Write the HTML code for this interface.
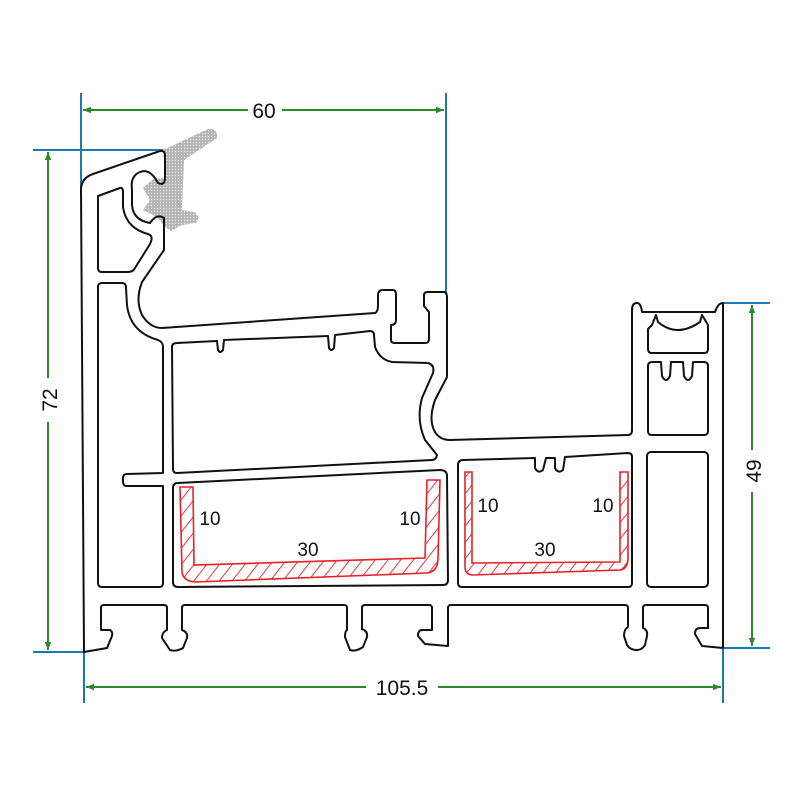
<!DOCTYPE html>
<html><head><meta charset="utf-8"><style>
html,body{margin:0;padding:0;background:#fff;width:800px;height:800px;overflow:hidden}
svg{display:block}
text{font-family:"Liberation Sans",sans-serif}
</style></head><body>
<svg width="800" height="800" viewBox="0 0 800 800" xmlns="http://www.w3.org/2000/svg">
<defs>
<pattern id="hat" patternUnits="userSpaceOnUse" width="10" height="10" patternTransform="rotate(38)">
<line x1="0" y1="0" x2="0" y2="10" stroke="#e8202a" stroke-width="1.8"/>
</pattern>
<pattern id="dots" patternUnits="userSpaceOnUse" width="3" height="3">
<rect width="3" height="3" fill="#b4b4b4"/><circle cx="1.5" cy="1.5" r="0.7" fill="#eee"/>
</pattern>
<marker id="ar" viewBox="0 0 10 10" refX="10" refY="5" markerWidth="10" markerHeight="8" orient="auto-start-reverse" markerUnits="userSpaceOnUse">
<path d="M0,1 L10,5 L0,9 Z" fill="#2a8a2a"/>
</marker>
</defs>

<!-- seal -->
<path d="M163,150 L208,129 Q218,128 217,138 L184,160 L182,210 L194,212 Q201,217 196,223 L182,225 L171,231 L164,226 L157,217 L143,210 L150,200 L143,188 L152,180 L165,177 Z" fill="url(#dots)"/>

<!-- blue extension lines -->
<g stroke="#1a7ab8" stroke-width="2" fill="none">
<line x1="81" y1="93" x2="81" y2="190"/>
<line x1="33" y1="150" x2="163" y2="150"/>
<line x1="446" y1="93" x2="446" y2="293"/>
<line x1="33" y1="652" x2="86" y2="652"/>
<line x1="84" y1="652" x2="84" y2="703"/>
<line x1="723" y1="648" x2="723" y2="703"/>
<line x1="722" y1="303" x2="770" y2="303"/>
<line x1="722" y1="648" x2="770" y2="648"/>
</g>

<!-- green dimension lines -->
<g stroke="#2a8a2a" stroke-width="2" fill="none">
<line x1="83" y1="110" x2="248" y2="110" marker-start="url(#ar)"/>
<line x1="282" y1="110" x2="444" y2="110" marker-end="url(#ar)"/>
<line x1="48" y1="152" x2="48" y2="378" marker-start="url(#ar)"/>
<line x1="48" y1="422" x2="48" y2="650" marker-end="url(#ar)"/>
<line x1="86" y1="687" x2="366" y2="687" marker-start="url(#ar)"/>
<line x1="438" y1="687" x2="721" y2="687" marker-end="url(#ar)"/>
<line x1="752" y1="305" x2="752" y2="450" marker-start="url(#ar)"/>
<line x1="752" y1="492" x2="752" y2="646" marker-end="url(#ar)"/>
</g>
<g font-size="21" fill="#111">
<text x="264" y="118" text-anchor="middle">60</text>
<text x="402" y="695" text-anchor="middle">105.5</text>
<text transform="translate(57,400) rotate(-90)" text-anchor="middle">72</text>
<text transform="translate(761,471) rotate(-90)" text-anchor="middle">49</text>
</g>

<!-- profile -->
<g stroke="#111" stroke-width="2" fill="none" stroke-linejoin="round">
<path d="M84,652 L81,190 Q81,178 93,174 L160,151 Q165,150 165,156 L165,178 Q165,186 158,183 Q150,168 140,172 Q130,176 132,190 L132,205 Q133,220 150,223 Q157,213 164,218 L164,250 L142,282 Q135,300 142,315 Q150,328 162,328 L375,313 Q378,312 378,305 L378,295 Q378,290 383,290 L393,290 Q396,290 396,295 L396,320 Q396,325 391,325 L391,340 Q391,343 395,343 L425,343 Q429,343 429,339 L429,312 L424,306 L424,295 Q424,292 428,292 L444,292 Q447,292 447,298 L447,377 L435,400 Q428,420 435,432 Q440,440 450,440 L628,435 Q632,435 632,430 L632,310 Q632,303 637,303 Q641,303 642,312 L715,312 Q718,303 723,303 L723,648 L702,646 L695,634 Q695,628 700,628 L708,628 L708,608 Q708,605 705,605 L646,605 Q643,605 643,608 L643,628 Q648,630 647,636 L645,645 Q642,650 637,650 Q630,650 627,645 L624,636 Q624,629 628,627 L628,608 Q628,605 625,605 L451,605 Q448,605 448,608 L448,646 L425,644 L418,636 Q418,630 422,630 L432,630 L432,608 Q432,605 429,605 L365,605 Q362,605 362,608 L362,629 Q368,631 367,637 L363,647 Q356,652 350,650 L345,637 Q345,631 347,630 L347,608 Q347,605 344,605 L185,605 Q182,605 182,608 L182,630 Q188,632 187,638 L183,648 Q176,652 170,650 L162,638 Q162,632 167,630 L167,608 Q167,605 164,605 L104,605 Q101,605 101,608 L101,630 L110,630 Q113,632 112,636 L107,648 Z"/>
<path d="M98,196 L120,188 Q123,187 123,192 L123,207 Q126,228 148,234 Q154,236 150,244 L135,268 Q133,272 128,272 L102,272 Q98,272 98,268 Z"/>
<path d="M98,287 Q98,283 102,283 L122,283 Q126,283 126,288 L127,305 Q130,332 158,340 Q163,342 163,347 L163,473 L127,474 Q123,474 123,478 L123,482 Q123,486 127,486 L163,486 L163,583 Q163,587 159,587 L102,587 Q98,587 98,583 Z"/>
<path d="M172,347 Q172,343 177,343 L217,341 L218,350 Q220,354 223,350 L224,340 L328,336 L329,348 Q331,352 334,348 L335,335 L370,331 Q374,331 374,335 L375,347 Q380,360 392,362 L428,363 Q435,365 433,373 L422,398 Q416,420 425,440 L437,455 Q436,460 432,460 L177,473 Q173,473 173,469 Z"/>
<path d="M173,488 Q173,483 178,483 L440,470 Q447,470 447,476 L448,580 Q448,585 443,585 L178,587 Q173,587 173,582 Z"/>
<path d="M458,465 Q458,460 463,460 L535,458 L535,468 Q538,474 543,470 L546,458 L555,458 L555,468 Q558,474 563,470 L565,457 L628,453 Q632,453 632,457 L632,583 Q632,587 628,587 L462,587 Q458,587 458,583 Z"/>
<rect x="647" y="452" width="61" height="135" rx="4"/>
<path d="M648,366 Q648,362 652,362 L661,362 L662,376 Q666,384 670,376 L671,362 L683,362 L684,376 Q688,384 692,376 L693,362 L704,362 Q708,362 708,366 L708,431 Q708,435 704,435 L652,435 Q648,435 648,431 Z"/>
<path d="M652,325 L656,315 L658,322 Q677,338 700,322 L702,315 L708,325 L708,349 Q708,353 704,353 L652,353 Q648,353 648,349 L648,329 Z"/>
</g>

<!-- red hatched channels -->
<g stroke="#e8202a" stroke-width="1.6" fill="url(#hat)">
<path d="M180,487 L193,487 L194,565 L425,558 L427,480 L440,480 L438,560 Q437,572 427,573 L195,582 Q183,581 182,572 Z"/>
<path d="M465,472 L472,472 L472,563 L620,562 L620,472 L628,472 L628,560 Q627,569 620,570 L472,575 Q465,574 465,567 Z"/>
</g>
<g font-size="19" fill="#111">
<text x="210" y="525" text-anchor="middle">10</text>
<text x="410" y="525" text-anchor="middle">10</text>
<text x="308" y="556" text-anchor="middle">30</text>
<text x="488" y="512" text-anchor="middle">10</text>
<text x="603" y="512" text-anchor="middle">10</text>
<text x="545" y="556" text-anchor="middle">30</text>
</g>
</svg>
</body></html>
